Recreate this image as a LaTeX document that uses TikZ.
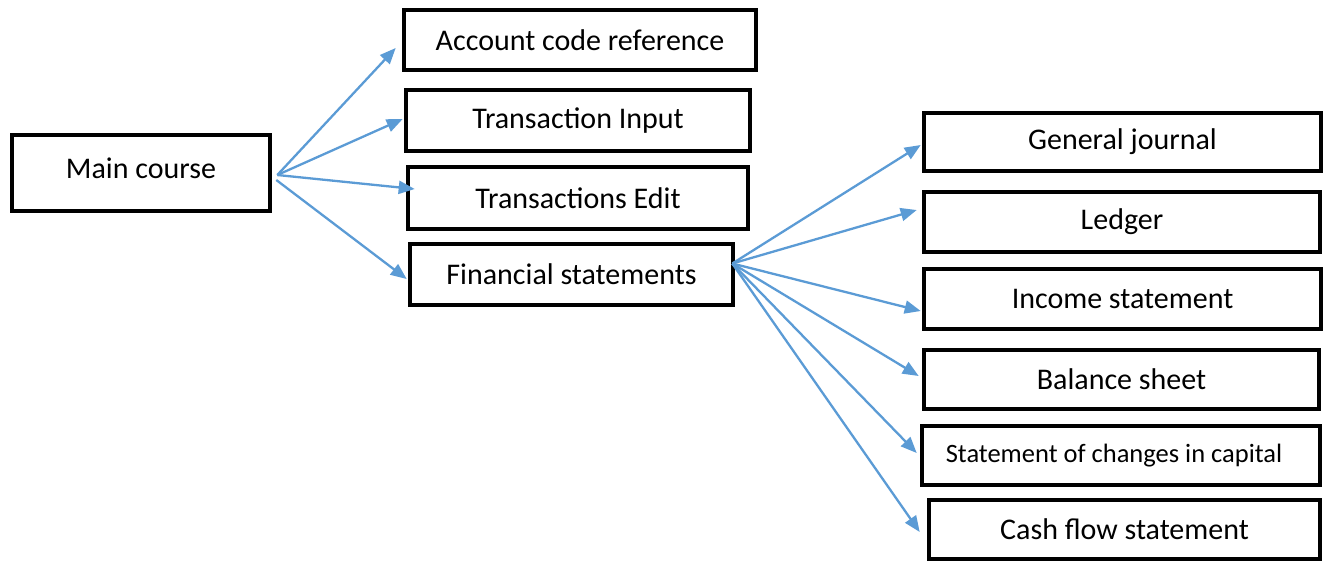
\documentclass[tikz,border=0pt]{standalone}
\usepackage{fontspec}
\setmainfont{Carlito}
\usetikzlibrary{arrows.meta,calc}
\definecolor{linkblue}{HTML}{5B9BD5}
\tikzset{
  box/.style={draw=black, line width=4.6pt, rectangle, fill=white, inner sep=0pt,
    font=\fontsize{30}{35}\selectfont},
  link/.style={draw=linkblue, line width=2.3pt,
    -{Triangle[length=16pt,width=13pt]}},
}
\begin{document}
\begin{tikzpicture}[x=1pt,y=-1pt]
\useasboundingbox (0,0) rectangle (1330,563);

% first level
\node[box, minimum width=258pt, minimum height=76pt] (main) at (141,173)
  {\raisebox{10pt}{Main course}};

% second level
\node[box, minimum width=352pt, minimum height=60pt] (acr) at (580,40) {Account code reference};
\node[box, minimum width=344pt, minimum height=61pt] (tin) at (578,120.5) {Transaction Input};
\node[box, minimum width=340pt, minimum height=62pt] (ted) at (578,198) {Transactions Edit};
\node[box, minimum width=323pt, minimum height=61pt] (fin) at (571.5,274.5) {Financial statements};

% third level
\node[box, minimum width=397pt, minimum height=58pt] (gj)  at (1122.5,142) {General journal};
\node[box, minimum width=396pt, minimum height=60pt] (led) at (1122,222) {Ledger};
\node[box, minimum width=397pt, minimum height=60pt] (inc) at (1122.5,299) {Income statement};
\node[box, minimum width=395pt, minimum height=59pt] (bal) at (1121.5,379.5) {Balance sheet};
\node[box, minimum width=398pt, minimum height=59pt] (soc) at (1121,455.5)
  {\hspace*{-14pt}\fontsize{26.5}{31}\selectfont Statement of changes in capital};
\node[box, minimum width=391pt, minimum height=59pt] (cfs) at (1124.5,529.5) {Cash flow statement};

% fan-out points
\coordinate (m0) at ($(main.east)+(5,2)$);
\coordinate (m1) at ($(main.east)+(4,7)$);
\coordinate (f0) at ($(fin.east)+(-3,-11)$);

\draw[link] (m0) -- ($(acr.west)+(-6,8)$);
\draw[link] (m0) -- ($(tin.west)+(-1,-1.5)$);
\draw[link] (m0) -- ($(ted.west)+(9,-9)$);
\draw[link] (m1) -- ($(fin.west)+(-1,4.5)$);

\draw[link] (f0) -- ($(gj.west)+(-1,3)$);
\draw[link] (f0) -- ($(led.west)+(-5,-12)$);
\draw[link] (f0) -- ($(inc.west)+(-1,12)$);
\draw[link] (f0) -- ($(bal.west)+(-3,-3.5)$);
\draw[link] (f0) -- ($(soc.west)+(-3,-2.5)$);
\draw[link] (f0) -- ($(cfs.west)+(-7,2.5)$);
\end{tikzpicture}
\end{document}
